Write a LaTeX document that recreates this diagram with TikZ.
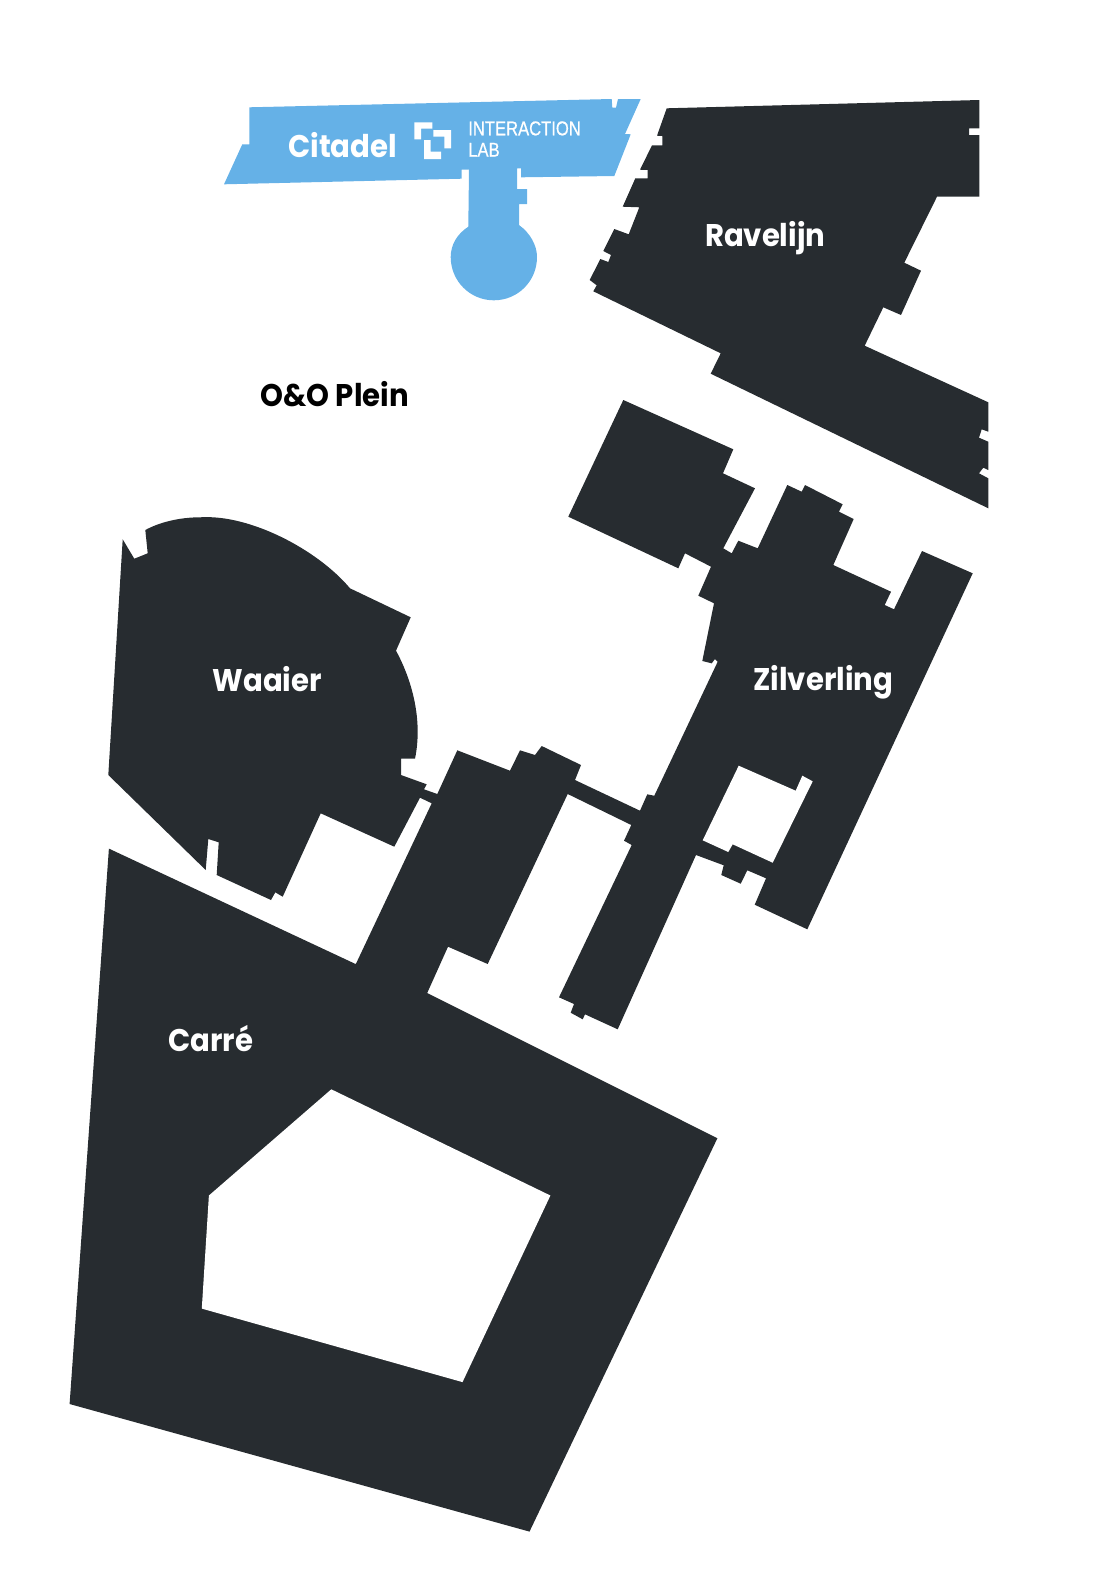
\documentclass[tikz,border=0pt]{standalone}
\usepackage{fontspec}
\newfontfamily\lblfont{Poppins}[FakeStretch=0.93]
\newfontfamily\labfont{Liberation Sans}[FakeStretch=0.83,FakeBold=0.6]
\definecolor{bldg}{RGB}{39,44,48}
\definecolor{citblue}{RGB}{101,177,231}
\tikzset{
  bldgfill/.style={fill=bldg},
  bluefill/.style={fill=citblue},
  place/.style={anchor=base west,inner sep=0pt,outer sep=0pt,font=\lblfont\bfseries\fontsize{23.5pt}{26pt}\selectfont,text=white},
  lablabel/.style={anchor=base west,inner sep=0pt,outer sep=0pt,font=\labfont\fontsize{15pt}{17pt}\selectfont,text=white}
}
\begin{document}
\begin{tikzpicture}[x=0.75pt,y=-0.75pt]
\useasboundingbox (0,0) rectangle (1110,1582);
% Citadel
\fill[bluefill] (249.3,107.3) -- (611.7,99) -- (612.3,107.7) -- (616,107.7) -- (618,99) -- (640.7,99) -- (625,134) -- (630.7,134.3) -- (614.3,176) -- (521,177.3) -- (521,168.3) -- (517,168.3) -- (517,189) -- (527,189) -- (527,204) -- (519,204) -- (519,225) .. controls (530,233) and (537,245) .. (537,257) .. controls (537,281) and (518,300.3) .. (493.8,300.3) .. controls (470,300.3) and (450.7,281) .. (450.7,257) .. controls (450.7,245) and (457,234) .. (468.3,226.7) -- (469,169.7) -- (461.7,169.7) -- (461.7,178.7) -- (224,184.3) -- (242.3,144.3) -- (249.3,144.3) -- cycle;
% Logo
\fill[white] (414.3,122.3) -- (432.3,122.3) -- (432.3,128.7) -- (421,128.7) -- (421,139.3) -- (414.3,139.3) -- cycle;
\fill[white] (433.3,130) -- (451,130) -- (451,148.3) -- (444.3,148.3) -- (444.3,136.7) -- (433.3,136.7) -- cycle;
\fill[white] (424,140) -- (430.7,140) -- (430.7,151.7) -- (441,151.7) -- (441,159) -- (424,159) -- cycle;
% Ravelijn
\fill[bldgfill] (666.7,108.3) -- (979.3,100) -- (979.3,128.3) -- (969,128.3) -- (969,135) -- (979.3,135) -- (979.3,196.7) -- (937,196.7) -- (904.3,262.7) -- (921,270.7) -- (901,315) -- (883.3,307.3) -- (864.7,345.7) -- (988.3,402.3) -- (988.3,431.7) -- (981.7,429.3) -- (979,437.7) -- (988.3,441.7) -- (988.3,470) -- (983.3,467.7) -- (979,473.3) -- (988.3,478.3) -- (988.3,508.3) -- (710.7,373.7) -- (720.7,353.3) -- (593.3,291.3) -- (596.7,285.3) -- (589.7,280) -- (600.3,259) -- (608.3,262) -- (611,255) -- (603.3,251) -- (614.3,229) -- (628.7,234.3) -- (639.3,207.3) -- (622.7,206.7) -- (635.3,178.3) -- (647.7,178.3) -- (647.7,170) -- (640,169.7) -- (652,145.3) -- (662.3,145.3) -- (662.3,136) -- (657,135.7) -- cycle;
% Zilverling, connecting wing, Carre, Waaier
\fill[bldgfill] (623.3,400) -- (733.3,449.3) -- (723,473.3) -- (755,488.3) -- (723.3,548.3) -- (731.7,553.3) -- (738.3,540.7) -- (757.7,548.3) -- (787.3,485) -- (801.7,491.7) -- (805,485) -- (842.7,504.3) -- (839,511.7) -- (853.7,519) -- (833.3,565) -- (891,591.7) -- (884.7,605) -- (894,609.3) -- (922,551) -- (972.7,573.3) -- (807.3,929.3) -- (754.7,904.7) -- (766,878.3) -- (747.3,870.3) -- (740.7,883.7) -- (721.3,875) -- (723.7,865.3) -- (696,855) -- (617.7,1029.3) -- (585,1014.3) -- (582.7,1019.3) -- (570.7,1012.7) -- (574,1004) -- (559,997.3) -- (631.7,845) -- (624,840.7) -- (631.3,825) -- (567.7,794) -- (487.7,964) -- (448,946.7) -- (427.2,993) -- (717.4,1138.2) -- (529.5,1531.6) -- (69.6,1404) -- (108.9,848.6) -- (355.8,964.1) -- (431.7,803.3) -- (420,797.7) -- (394.3,846.7) -- (320.7,813.3) -- (282.7,896.7) -- (275.3,892.3) -- (271,900) -- (216.7,875) -- (218.7,842.3) -- (208.3,839) -- (205.7,870) -- (108.3,775) -- (122.7,539.3) -- (134.3,558.7) -- (147.7,553.3) -- (145.3,530) .. controls (160,522) and (180,517.3) .. (200,517.3) .. controls (250,514) and (318,550) .. (350,588.3) -- (410.7,617.3) -- (396,650.7) .. controls (412,680) and (423,720) .. (415,758.7) -- (401,758.7) -- (401,775) -- (426.7,784.3) -- (424,789.3) -- (437.3,794) -- (457.3,750.3) -- (510,770.7) -- (520,750.3) -- (535,755) -- (541.7,746) -- (581,765) -- (575,780) -- (640,810.7) -- (647.3,794.3) -- (654.3,795.7) -- (717.7,661.7) -- (715,659) -- (711.7,663.3) -- (702.3,661) -- (714,603.3) -- (698.3,595.7) -- (711,566.7) -- (685,553.3) -- (678.3,568.3) -- (568.3,516.7) -- cycle;
% Courtyards
\fill[white] (738.7,765.7) -- (795.7,790.7) -- (802.3,775.7) -- (812.7,781.3) -- (772.7,862.7) -- (732.7,844.3) -- (728.3,852) -- (702.7,840.3) -- cycle;
\fill[white] (331.3,1089.3) -- (550.4,1195.5) -- (462.5,1382.1) -- (201.8,1308.6) -- (208.9,1195.5) -- cycle;
% Labels
\node[place] (citadel) at (288.3,157.5) {Citadel};
\node[place] (ravelijn) at (705,246.5) {Ravelijn};
\node[place,text=black] (plein) at (260.7,406) {O\&O Plein};
\node[place] (waaier) at (212.7,691) {Waaier};
\node[place] (zilverling) at (753.3,690.5) {Zilverling};
\node[place] (carre) at (168.3,1051) {Carré};
\node[lablabel] (interaction) at (468.3,135.3) {INTERACTION};
\node[lablabel] (lab) at (468.3,156.7) {LAB};
\end{tikzpicture}
\end{document}
